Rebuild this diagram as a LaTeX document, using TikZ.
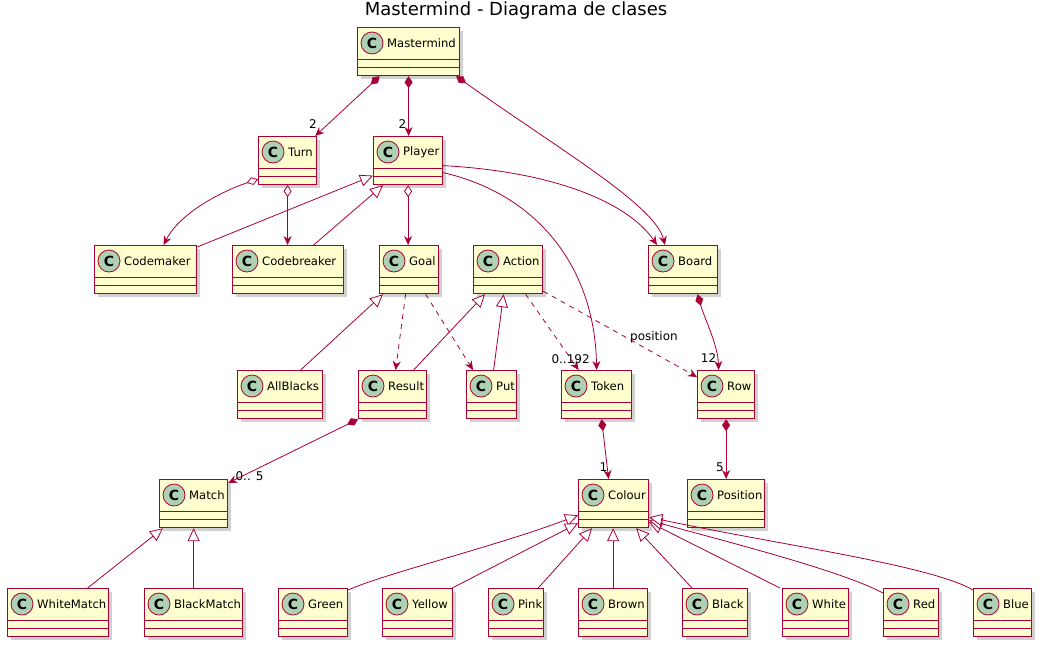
\documentclass[tikz,border=0pt]{standalone}
\usepackage{fontspec}
\setmainfont{DejaVu Sans}
\usetikzlibrary{arrows.meta,shadows}
\definecolor{umlred}{HTML}{A80036}
\definecolor{umlfill}{HTML}{FEFECE}
\definecolor{badgegreen}{HTML}{ADD1B2}
\tikzset{
  cls/.style={draw=umlred, fill=umlfill, line width=1.2pt, minimum height=48pt, inner sep=0pt,
    drop shadow={shadow xshift=3pt, shadow yshift=-3pt, fill=black!30, opacity=0.6}},
  badge/.style={circle, draw=umlred, fill=badgegreen, line width=0.8pt, minimum size=22pt, inner sep=0pt,
    font=\bfseries\fontsize{14}{14}\selectfont},
  clsname/.style={anchor=west, inner sep=0pt, font=\fontsize{11.6}{14}\selectfont},
  mult/.style={inner sep=1pt, text=black, font=\fontsize{12}{14}\selectfont},
  link/.style={umlred, line width=0.8pt},
  assoc/.style={link, -{Stealth[length=9pt,width=8pt,inset=3pt]}},
  comp/.style={link, {Diamond[length=12pt,width=8pt]}-{Stealth[length=9pt,width=8pt,inset=3pt]}},
  aggr/.style={link, {Diamond[open,fill=white,length=12pt,width=8pt]}-{Stealth[length=9pt,width=8pt,inset=3pt]}},
  inherit/.style={link, -{Triangle[open,fill=white,length=13pt,width=12pt]}},
  depend/.style={assoc, dash pattern=on 5pt off 5pt}
}
\begin{document}
\begin{tikzpicture}[x=1pt,y=-1pt]
    \useasboundingbox (0,0) rectangle (1044,649);
    \node[font=\fontsize{18}{20}\selectfont] (title) at (516,11) {Mastermind - Diagrama de clases};
    % classes: name/left/top/right
    \foreach \nm/\xa/\ya/\xb in {Mastermind/357/27/459, Turn/258/136/316, Player/373/136/442,
        Codemaker/94/245/196, Codebreaker/232/245/343, Goal/379/245/438, Action/473/245/542,
        Board/648/245/717, AllBlacks/237/370/322, Result/358/370/426, Put/466/370/516,
        Token/561/370/631, Row/697/370/754, Match/159/479/227, Colour/578/479/648,
        Position/687/479/764, WhiteMatch/7/588/108, BlackMatch/144/588/242, Green/278/588/347,
        Yellow/382/588/452, Pink/488/588/543, Brown/578/588/647, Black/682/588/747,
        White/782/588/848, Red/883/588/938, Blue/973/588/1031} {
        \node[cls, minimum width={\xb-\xa}, anchor=north west] (\nm) at (\xa,\ya) {};
        \draw[umlred, line width=1pt] ([yshift=-32pt]\nm.north west) -- ([yshift=-32pt]\nm.north east)
            ([yshift=-40pt]\nm.north west) -- ([yshift=-40pt]\nm.north east);
        \node[badge] at ([xshift=15pt,yshift=-16pt]\nm.north west) {C};
        \node[clsname] at ([xshift=30pt,yshift=-16pt]\nm.north west) {\nm};
    }
    % Mastermind
    \draw[comp] ([xshift=-29pt]Mastermind.south) -- ([xshift=-2pt]Turn.north east)
        node[mult, at end, anchor=south east, xshift=3pt, yshift=6pt] {2};
    \draw[comp] (Mastermind.south) -- (Mastermind.south |- Player.north)
        node[mult, at end, anchor=south east, xshift=-1pt, yshift=6pt] {2};
    \draw[comp] ([xshift=-4pt]Mastermind.south east) .. controls (560,150) and (655,205) .. ([xshift=17pt]Board.north west);
    % Turn and Player
    \draw[aggr] ([yshift=6pt]Turn.south west) .. controls (225,190) and (180,212) .. ([xshift=18pt]Codemaker.north);
    \draw[aggr] (Turn.south) -- (Turn.south |- Codebreaker.north);
    \draw[inherit] ([yshift=-2pt]Codemaker.north east) -- ([yshift=-15pt]Player.west);
    \draw[inherit] ([xshift=25.5pt]Codebreaker.north) -- ([xshift=10pt]Player.south west);
    \draw[aggr] (Player.south) -- (Player.south |- Goal.north);
    \draw[assoc] ([yshift=-12pt]Player.east) .. controls (540,195) and (595,270) .. (Token.north);
    \draw[assoc] ([yshift=-5pt]Player.east) .. controls (560,172) and (630,205) .. ([xshift=9pt]Board.north west);
    % Goal and Action
    \draw[inherit] ([xshift=20.5pt]AllBlacks.north) -- ([xshift=4pt]Goal.south west);
    \draw[depend] ([xshift=-3.5pt]Goal.south) -- ([xshift=3pt]Result.north);
    \draw[depend] ([xshift=16.5pt]Goal.south) -- ([xshift=7pt]Put.north west);
    \draw[inherit] ([xshift=21pt]Result.north) -- ([xshift=12pt]Action.south west);
    \draw[inherit] ([xshift=2pt]Put.north) -- ([xshift=-4.5pt]Action.south);
    \draw[depend] ([xshift=17.5pt]Action.south) -- ([xshift=-18pt]Token.north)
        node[mult, at end, anchor=south, xshift=-8pt, yshift=5pt] {0..192};
    \draw[depend] ([yshift=3pt]Action.south east) -- ([yshift=-7pt]Row.north west)
        node[mult, pos=0.72, anchor=south, yshift=9pt] {position};
    \draw[comp] ([xshift=14.5pt]Board.south) .. controls (705,320) and (718,345) .. ([xshift=-7.5pt]Row.north)
        node[mult, at end, anchor=south east, xshift=-1pt, yshift=6pt] {12};
    % lower part
    \draw[comp] (Result.south west) -- ([yshift=-4pt]Match.north east)
        node[mult, at end, anchor=south west, xshift=6pt, yshift=1pt] {0.. 5};
    \draw[comp] ([xshift=5pt]Token.south) -- ([xshift=-5pt]Colour.north)
        node[mult, at end, anchor=south east, xshift=0pt, yshift=6pt] {1};
    \draw[comp] (Row.south) -- (Row.south |- Position.north)
        node[mult, at end, anchor=south east, xshift=-1pt, yshift=6pt] {5};
    \draw[inherit] ([xshift=29.5pt]WhiteMatch.north) -- ([xshift=4pt]Match.south west);
    \draw[inherit] (BlackMatch.north) -- (BlackMatch.north |- Match.south);
    % colours
    \draw[inherit] ([yshift=-2pt]Green.north east) .. controls (380,575) and (500,545) .. ([yshift=13pt]Colour.south west);
    \draw[inherit] ([xshift=-1pt]Yellow.north east) -- ([yshift=5pt]Colour.south west);
    \draw[inherit] ([xshift=-6pt]Pink.north east) -- ([xshift=14pt]Colour.south west);
    \draw[inherit] (Brown.north) -- (Brown.north |- Colour.south);
    \draw[inherit] ([xshift=10pt]Black.north west) -- ([xshift=-13pt]Colour.south east);
    \draw[inherit] ([xshift=-2pt]White.north west) -- ([yshift=6pt]Colour.south east);
    \draw[inherit] ([yshift=-5pt]Red.north west) .. controls (840,570) and (720,540) .. ([yshift=8pt]Colour.south east);
    \draw[inherit] ([yshift=-2pt]Blue.north west) .. controls (930,565) and (780,545) .. ([yshift=11pt]Colour.south east);
\end{tikzpicture}
\end{document}
